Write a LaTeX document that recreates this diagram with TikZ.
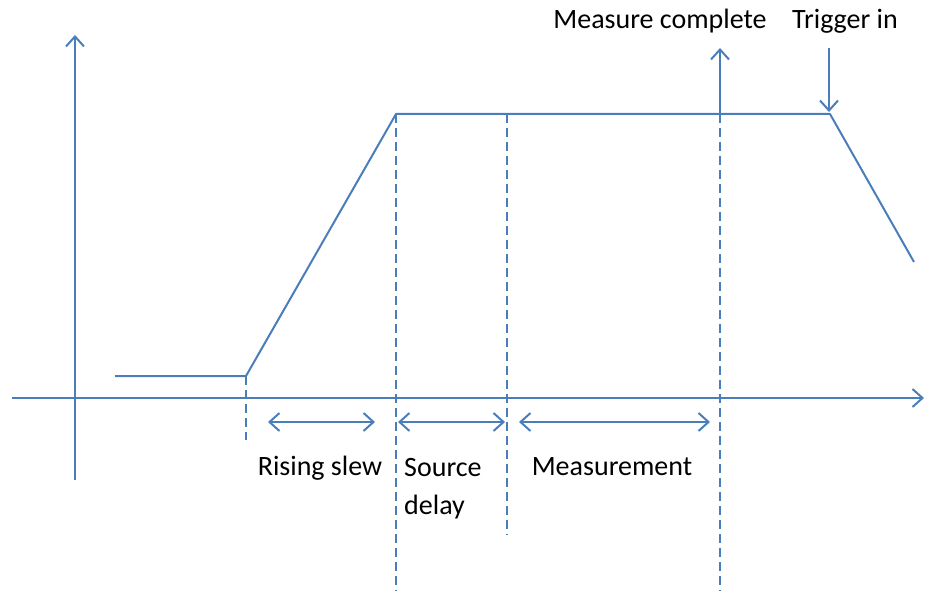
\documentclass[tikz,border=0pt]{standalone}
\usepackage{fontspec}
\setmainfont{Carlito}
\usetikzlibrary{arrows.meta}
\definecolor{lineblue}{HTML}{4A7EBB}
\begin{document}
\begin{tikzpicture}[x=1pt,y=-1pt,
  ln/.style={draw=lineblue,line width=2pt},
  dsh/.style={draw=lineblue,line width=1.7pt,dash pattern=on 9pt off 5pt},
  tipped/.style={-{Straight Barb[length=10pt,width=18pt,line width=2pt]}},
  dbl/.style={{Straight Barb[length=10pt,width=18pt,line width=2pt]}-{Straight Barb[length=10pt,width=18pt,line width=2pt]}},
  lbl/.style={font=\fontsize{28}{32}\selectfont,text=black,inner sep=0pt}]
\useasboundingbox (0,0) rectangle (926,591);
% axes
\coordinate (ya) at (75,480);
\coordinate (yb) at (75,35);
\coordinate (xa) at (12,398);
\coordinate (xb) at (924,398);
\draw[ln,tipped] (ya) -- (yb);
\draw[ln,tipped] (xa) -- (xb);
% waveform
\coordinate (w0) at (115,376);
\coordinate (w1) at (246,376);
\coordinate (w2) at (396,114);
\coordinate (w3) at (720,114);
\coordinate (w4) at (830,114);
\coordinate (w5) at (914,262);
\draw[ln,line join=round] (w0) -- (w1) -- (w2) -- (w4) -- (w5);
% dashed verticals
\coordinate (d1b) at (246,440);
\coordinate (d2b) at (396,591);
\coordinate (d3t) at (507,114);
\coordinate (d3b) at (507,535);
\coordinate (d4b) at (720,591);
\draw[dsh] (w1) -- (d1b);
\draw[dsh] (w2) -- (d2b);
\draw[dsh] (d3t) -- (d3b);
\draw[dsh] (w3) -- (d4b);
% event arrows
\coordinate (mc) at (720,48);
\coordinate (tg) at (829,48);
\coordinate (tge) at (829,112);
\draw[ln,tipped] (w3) -- (mc);
\draw[ln,tipped] (tg) -- (tge);
% interval arrows
\coordinate (r1) at (268,422);
\coordinate (r2) at (375,422);
\coordinate (s1) at (398,422);
\coordinate (s2) at (505,422);
\coordinate (m1) at (519,422);
\coordinate (m2) at (710,422);
\draw[ln,dbl] (r1) -- (r2);
\draw[ln,dbl] (s1) -- (s2);
\draw[ln,dbl] (m1) -- (m2);
% labels
\node[lbl] (lr) at (320,468) {Rising slew};
\node[lbl,anchor=west] (ls1) at (404,468) {Source};
\node[lbl,anchor=west] (ls2) at (404,507) {delay};
\node[lbl] (lm) at (612,467) {Measurement};
\node[lbl] (lmc) at (660,21) {Measure complete};
\node[lbl] (ltg) at (845,21) {Trigger in};
\end{tikzpicture}
\end{document}
